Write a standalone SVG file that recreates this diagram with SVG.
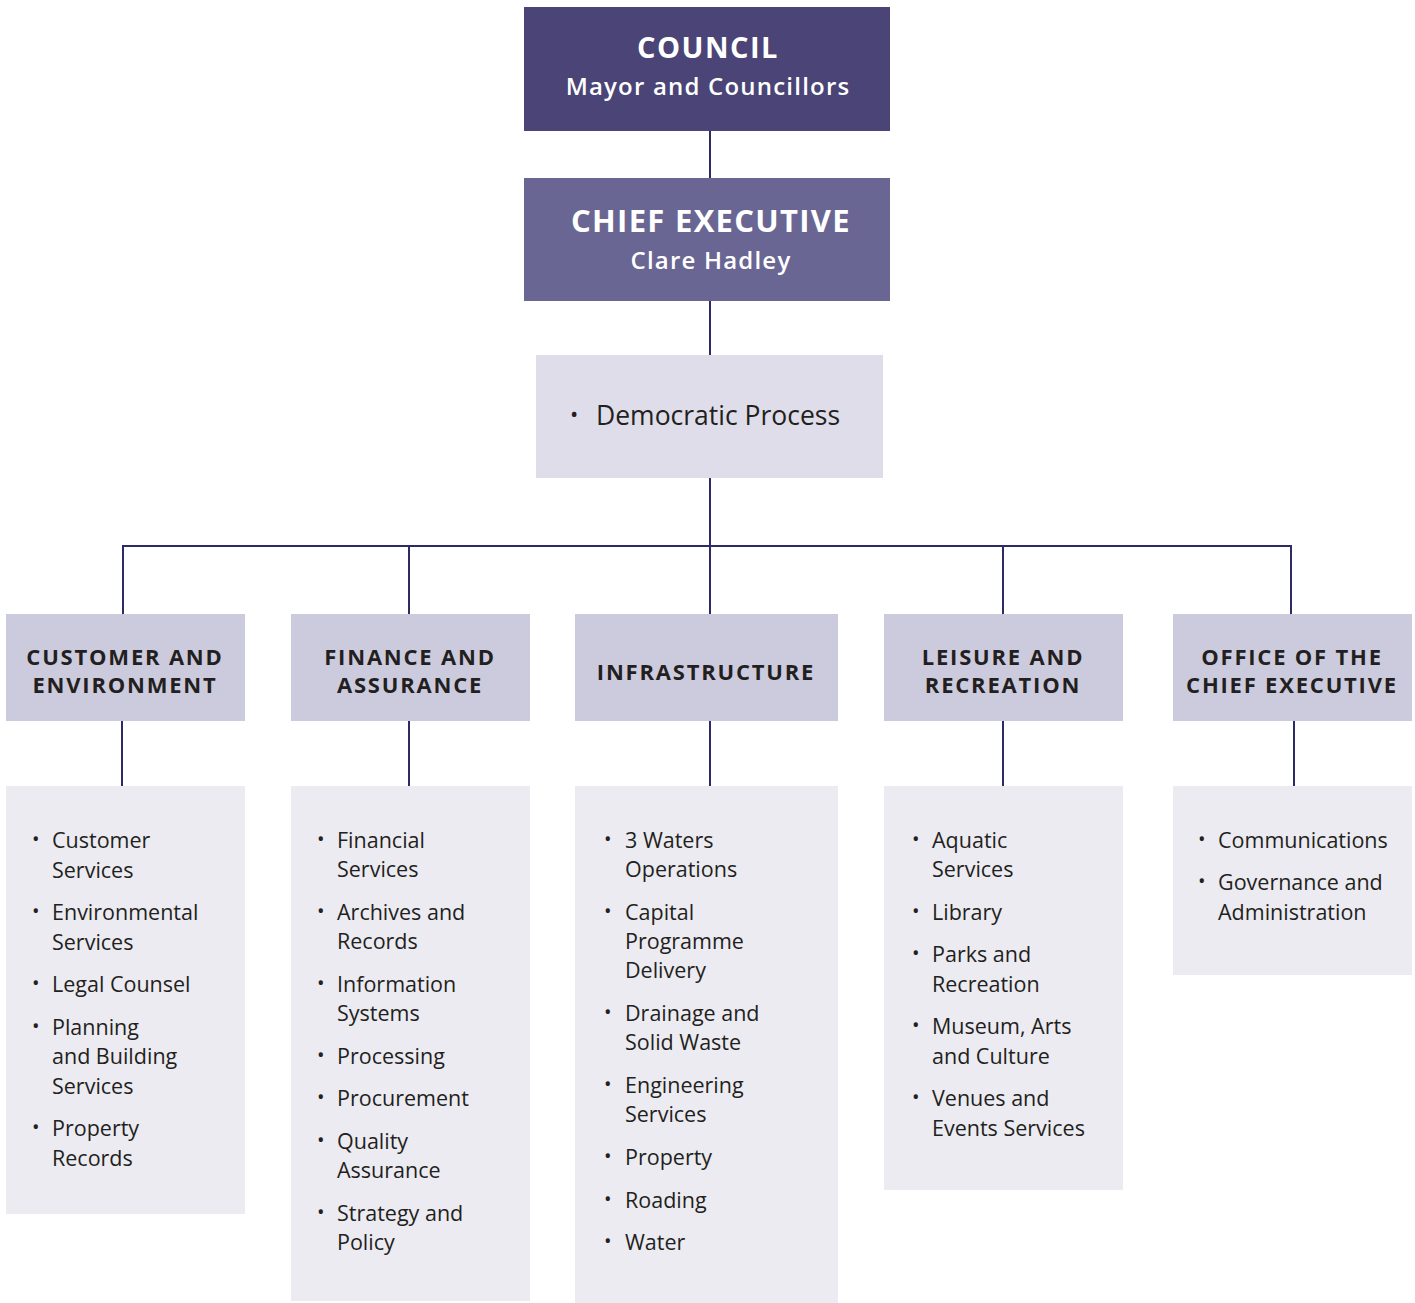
<svg xmlns="http://www.w3.org/2000/svg" width="1415" height="1303" viewBox="0 0 1415 1303">
  <style>
    .bg { fill: #ffffff; }
    .council { fill: #4a4477; }
    .chief { fill: #6a6694; }
    .demo { fill: #dfdde9; }
    .div { fill: #cccbde; }
    .list { fill: #ecebf2; }
    .link { stroke: #2e2a63; stroke-width: 2; fill: none; }
    .top1 { font-family: "Open Sans", "Liberation Sans", sans-serif; font-weight: 700; fill: #ffffff; text-anchor: middle; }
    .top2 { font-family: "Open Sans", "Liberation Sans", sans-serif; font-weight: 600; fill: #ffffff; text-anchor: middle; }
    .head { font-family: "Open Sans", "Liberation Sans", sans-serif; font-weight: 700; font-size: 22px; letter-spacing: 1.8px; fill: #231f20; text-anchor: middle; }
    .item { font-family: "Open Sans", "Liberation Sans", sans-serif; font-size: 21.5px; fill: #231f20; }
    .bul { font-family: "Open Sans", "Liberation Sans", sans-serif; font-size: 20px; fill: #231f20; }
  </style>
  <rect class="bg" x="0" y="0" width="1415" height="1303"/>

  <!-- connectors -->
  <g id="connectors">
    <line class="link" x1="710" y1="131" x2="710" y2="178"/>
    <line class="link" x1="710" y1="301" x2="710" y2="355"/>
    <line class="link" x1="710" y1="478" x2="710" y2="614"/>
    <polyline class="link" points="123,614 123,546 1291,546 1291,614"/>
    <line class="link" x1="409" y1="546" x2="409" y2="614"/>
    <line class="link" x1="1003" y1="546" x2="1003" y2="614"/>
    <line class="link" x1="122" y1="721" x2="122" y2="786"/>
    <line class="link" x1="409" y1="721" x2="409" y2="786"/>
    <line class="link" x1="710" y1="721" x2="710" y2="786"/>
    <line class="link" x1="1003" y1="721" x2="1003" y2="786"/>
    <line class="link" x1="1294" y1="721" x2="1294" y2="786"/>
  </g>

  <g id="council">
    <rect class="council" x="524" y="7" width="366" height="124"/>
    <text class="top1" x="708" y="58" font-size="29" letter-spacing="1.5">COUNCIL</text>
    <text class="top2" x="708" y="95" font-size="24" letter-spacing="1.2">Mayor and Councillors</text>
  </g>

  <g id="chief-executive">
    <rect class="chief" x="524" y="178" width="366" height="123"/>
    <text class="top1" x="711" y="232" font-size="31" letter-spacing="1.3">CHIEF EXECUTIVE</text>
    <text class="top2" x="711" y="269" font-size="24" letter-spacing="1.2">Clare Hadley</text>
  </g>

  <g id="democratic-process">
    <rect class="demo" x="536" y="355" width="347" height="123"/>
    <text x="570" y="422" style="font-family: 'Open Sans', 'Liberation Sans', sans-serif; font-size: 22px; fill: #231f20;">•</text>
    <text x="596" y="425" style="font-family: 'Open Sans', 'Liberation Sans', sans-serif; font-size: 26.5px; fill: #231f20;">Democratic Process</text>
  </g>

  <!-- divisions -->
  <g id="customer-environment">
    <rect class="div" x="6" y="614" width="239" height="107"/>
    <text class="head" x="125" y="665">CUSTOMER AND</text>
    <text class="head" x="125" y="693">ENVIRONMENT</text>
  </g>
  <g id="finance-assurance">
    <rect class="div" x="291" y="614" width="239" height="107"/>
    <text class="head" x="410" y="665">FINANCE AND</text>
    <text class="head" x="410" y="693">ASSURANCE</text>
  </g>
  <g id="infrastructure">
    <rect class="div" x="575" y="614" width="263" height="107"/>
    <text class="head" x="706" y="680">INFRASTRUCTURE</text>
  </g>
  <g id="leisure-recreation">
    <rect class="div" x="884" y="614" width="239" height="107"/>
    <text class="head" x="1003" y="665">LEISURE AND</text>
    <text class="head" x="1003" y="693">RECREATION</text>
  </g>
  <g id="office-chief-executive">
    <rect class="div" x="1173" y="614" width="239" height="107"/>
    <text class="head" x="1292" y="665">OFFICE OF THE</text>
    <text class="head" x="1292" y="693">CHIEF EXECUTIVE</text>
  </g>

  <!-- service lists -->
  <g id="customer-environment-services">
    <rect class="list" x="6" y="786" width="239" height="428"/>
    <g class="bul">
      <text x="32" y="846">•</text>
      <text x="32" y="918">•</text>
      <text x="32" y="990">•</text>
      <text x="32" y="1033">•</text>
      <text x="32" y="1134">•</text>
    </g>
    <g class="item">
      <text x="52" y="848">Customer</text>
      <text x="52" y="878">Services</text>
      <text x="52" y="920">Environmental</text>
      <text x="52" y="950">Services</text>
      <text x="52" y="992">Legal Counsel</text>
      <text x="52" y="1035">Planning</text>
      <text x="52" y="1064">and Building</text>
      <text x="52" y="1094">Services</text>
      <text x="52" y="1136">Property</text>
      <text x="52" y="1166">Records</text>
    </g>
  </g>

  <g id="finance-assurance-services">
    <rect class="list" x="291" y="786" width="239" height="515"/>
    <g class="bul">
      <text x="317" y="846">•</text>
      <text x="317" y="918">•</text>
      <text x="317" y="990">•</text>
      <text x="317" y="1062">•</text>
      <text x="317" y="1104">•</text>
      <text x="317" y="1147">•</text>
      <text x="317" y="1219">•</text>
    </g>
    <g class="item">
      <text x="337" y="848">Financial</text>
      <text x="337" y="877">Services</text>
      <text x="337" y="920">Archives and</text>
      <text x="337" y="949">Records</text>
      <text x="337" y="992">Information</text>
      <text x="337" y="1021">Systems</text>
      <text x="337" y="1064">Processing</text>
      <text x="337" y="1106">Procurement</text>
      <text x="337" y="1149">Quality</text>
      <text x="337" y="1178">Assurance</text>
      <text x="337" y="1221">Strategy and</text>
      <text x="337" y="1250">Policy</text>
    </g>
  </g>

  <g id="infrastructure-services">
    <rect class="list" x="575" y="786" width="263" height="517"/>
    <g class="bul">
      <text x="604" y="846">•</text>
      <text x="604" y="918">•</text>
      <text x="604" y="1019">•</text>
      <text x="604" y="1091">•</text>
      <text x="604" y="1163">•</text>
      <text x="604" y="1206">•</text>
      <text x="604" y="1248">•</text>
    </g>
    <g class="item">
      <text x="625" y="848">3 Waters</text>
      <text x="625" y="877">Operations</text>
      <text x="625" y="920">Capital</text>
      <text x="625" y="949">Programme</text>
      <text x="625" y="978">Delivery</text>
      <text x="625" y="1021">Drainage and</text>
      <text x="625" y="1050">Solid Waste</text>
      <text x="625" y="1093">Engineering</text>
      <text x="625" y="1122">Services</text>
      <text x="625" y="1165">Property</text>
      <text x="625" y="1208">Roading</text>
      <text x="625" y="1250">Water</text>
    </g>
  </g>

  <g id="leisure-recreation-services">
    <rect class="list" x="884" y="786" width="239" height="404"/>
    <g class="bul">
      <text x="912" y="846">•</text>
      <text x="912" y="918">•</text>
      <text x="912" y="960">•</text>
      <text x="912" y="1032">•</text>
      <text x="912" y="1104">•</text>
    </g>
    <g class="item">
      <text x="932" y="848">Aquatic</text>
      <text x="932" y="877">Services</text>
      <text x="932" y="920">Library</text>
      <text x="932" y="962">Parks and</text>
      <text x="932" y="992">Recreation</text>
      <text x="932" y="1034">Museum, Arts</text>
      <text x="932" y="1064">and Culture</text>
      <text x="932" y="1106">Venues and</text>
      <text x="932" y="1136">Events Services</text>
    </g>
  </g>

  <g id="office-chief-executive-services">
    <rect class="list" x="1173" y="786" width="239" height="189"/>
    <g class="bul">
      <text x="1198" y="846">•</text>
      <text x="1198" y="888">•</text>
    </g>
    <g class="item">
      <text x="1218" y="848">Communications</text>
      <text x="1218" y="890">Governance and</text>
      <text x="1218" y="920">Administration</text>
    </g>
  </g>
</svg>
